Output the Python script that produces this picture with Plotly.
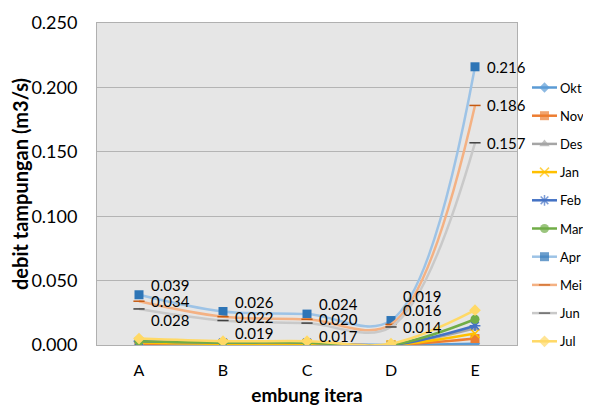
import plotly.graph_objects as go

categories = ["A", "B", "C", "D", "E"]
series_names = ["Okt", "Nov", "Des", "Jan", "Feb", "Mar", "Apr", "Mei", "Jun", "Jul"]
okt = [0.002, 0.001, 0.001, 0.000, 0.001]
nov = [0.001, 0.001, 0.001, 0.000, 0.005]
des = [0.002, 0.001, 0.001, 0.000, 0.013]
jan = [0.002, 0.001, 0.001, 0.000, 0.009]
feb = [0.003, 0.002, 0.002, 0.000, 0.015]
mar = [0.003, 0.002, 0.002, 0.000, 0.020]
apr = [0.039, 0.026, 0.024, 0.019, 0.216]
mei = [0.034, 0.022, 0.020, 0.016, 0.186]
jun = [0.028, 0.019, 0.017, 0.014, 0.157]
jul = [0.005, 0.003, 0.003, 0.001, 0.027]
y_ticks = [0.0, 0.05, 0.10, 0.15, 0.20, 0.25]

values = [okt, nov, des, jan, feb, mar, apr, mei, jun, jul]
line_colors = ["#5B9BD5", "#ED7D31", "#A5A5A5", "#FFC000", "#4472C4",
               "#70AD47", "#9DC3E6", "#F4B183", "#C9C9C9", "#FFD966"]
marker_colors = ["#5B9BD5", "#ED7D31", "#A5A5A5", "#FFC000", "#4472C4",
                 "#70AD47", "#2E75B6", "#C55A11", "#404040", "#FFD966"]
symbols = ["diamond", "square", "triangle-up", "x-thin-open", "asterisk-open",
           "circle", "square", "line-ew-open", "line-ew-open", "diamond"]
sizes = [8, 9, 9, 9, 9, 9, 9, 8, 8, 9]

FONT = "Lato, Carlito, Calibri, sans-serif"
OFF = 8                      # page body margin in the browser
W, H = 591 - OFF, 406 - OFF  # figure size so it fits the window
PL, PT, PB = 97, 23, 345     # plot area in window pixels (left, top, bottom)
PLOT_W = 420
ML, MT = PL - OFF, PT - OFF
MB = H - (PB - OFF)
paper_w = W - ML
x_dom_end = PLOT_W / paper_w
LEG_X0 = 527 - OFF           # legend column left

fig = go.Figure()
for name, vals, lc, mc, sym, sz in zip(series_names, values, line_colors,
                                        marker_colors, symbols, sizes):
    mline = dict(width=1.5, color=mc) if sym.endswith("open") else dict(width=0)
    fig.add_trace(go.Scatter(
        x=categories, y=vals, name=name, mode="lines+markers", showlegend=False,
        line=dict(color=lc, width=2.5, shape="spline", smoothing=1.0),
        marker=dict(symbol=sym, size=sz, color=mc, line=mline),
        xaxis="x", yaxis="y",
    ))

# legend drawn in its own pixel-scaled axis to the right of the plot
leg_first, leg_step = 87.5 - OFF, 28.2
for i, (name, lc, mc, sym, sz) in enumerate(zip(series_names, line_colors,
                                                marker_colors, symbols, sizes)):
    yy = leg_first + i * leg_step
    mline = dict(width=1.5, color=mc) if sym.endswith("open") else dict(width=0)
    fig.add_trace(go.Scatter(
        x=[5, 17.5, 30], y=[yy, yy, yy], mode="lines+markers", showlegend=False,
        hoverinfo="skip", cliponaxis=False,
        line=dict(color=lc, width=2.5),
        marker=dict(symbol=sym, size=[0, sz, 0], color=mc, line=mline),
        xaxis="x2", yaxis="y2",
    ))
    fig.add_annotation(x=31, y=yy, xref="x2", yref="y2", text=name, showarrow=False,
                       xanchor="left", yanchor="middle",
                       font=dict(family=FONT, size=13, color="#000000"))

# data labels for Apr, Mei, Jun (pixel shifts to avoid overlap, as in reference)
label_shifts = {
    "Apr": [10, 10, 10, 25, 0],
    "Mei": [0, 0, 0, 14, 0],
    "Jun": [-11, -12, -13, 0, 0],
}
for name, vals in (("Apr", apr), ("Mei", mei), ("Jun", jun)):
    for c, v, s in zip(categories, vals, label_shifts[name]):
        fig.add_annotation(x=c, y=v, xref="x", yref="y", text=f"{v:.3f}", showarrow=False,
                           xanchor="left", yanchor="middle", xshift=10, yshift=s,
                           font=dict(family=FONT, size=15, color="#000000"))

fig.update_layout(
    width=W, height=H,
    margin=dict(l=ML, r=0, t=MT, b=MB, autoexpand=False),
    paper_bgcolor="white", plot_bgcolor="rgba(0,0,0,0)",
    font=dict(family=FONT, size=15, color="#000000"),
    showlegend=False,
    shapes=[dict(type="rect", xref="x domain", yref="y domain", x0=0, x1=1, y0=0, y1=1,
                 fillcolor="#E6E6E6", line=dict(width=0), layer="below")],
    xaxis=dict(
        domain=[0, x_dom_end], anchor="y",
        type="category", range=[-0.5, len(categories) - 0.5],
        tickfont=dict(size=16), ticks="",
        ticklabelstandoff=11,
        showgrid=False, showline=True, linecolor="#B0B0B0", linewidth=1, mirror=True,
        title=dict(text="<b>embung itera</b>", font=dict(size=19), standoff=12),
    ),
    yaxis=dict(
        domain=[0, 1], anchor="x",
        range=[0, 0.25], tickvals=y_ticks, tickformat=".3f",
        tickfont=dict(size=18), ticks="", ticklabelstandoff=15,
        showgrid=True, gridcolor="#B4B4B4", gridwidth=1,
        zeroline=False,
        showline=True, linecolor="#B0B0B0", linewidth=1, mirror=True,
        title=dict(text="<b>debit tampungan (m3/s)</b>", font=dict(size=20), standoff=3),
    ),
    xaxis2=dict(domain=[(LEG_X0 - ML) / paper_w, 1], anchor="y2",
                range=[0, W - LEG_X0], visible=False, fixedrange=True),
    yaxis2=dict(domain=[0, 1], anchor="x2",
                range=[H - MB, MT], visible=False, fixedrange=True),
)

fig.write_html("out.html")
